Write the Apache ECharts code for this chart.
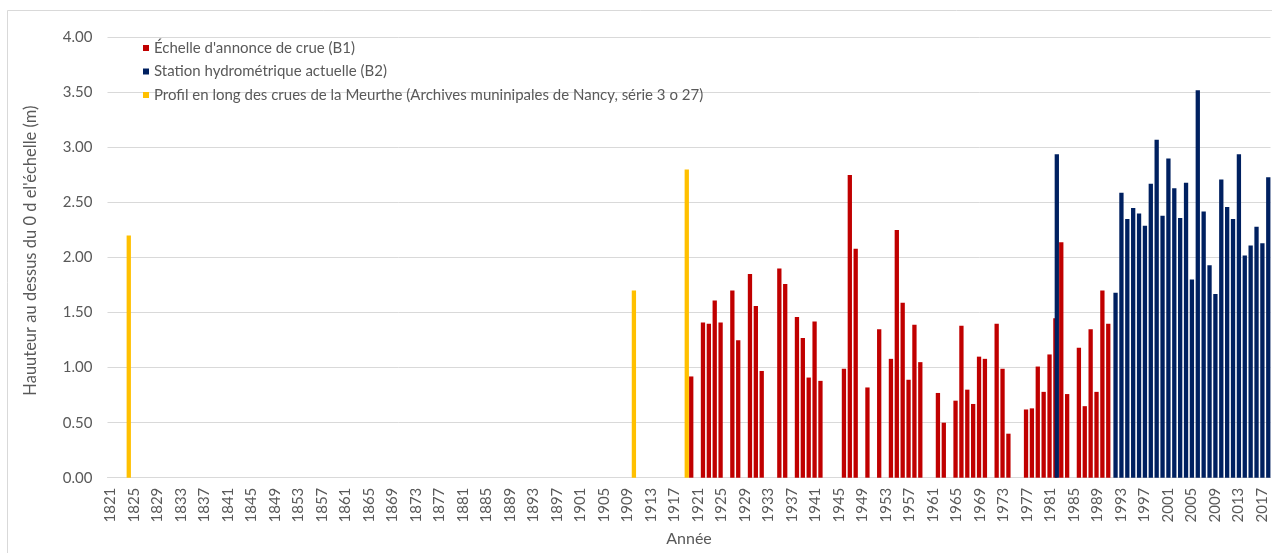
<!DOCTYPE html>
<html>
<head>
<meta charset="utf-8">
<script src="https://cdn.jsdelivr.net/npm/echarts@6/dist/echarts.min.js"></script>
<style>
  html, body { margin: 0; padding: 0; background: #ffffff; }
  #chart { width: 1272px; height: 553px; }
</style>
</head>
<body>
<div id="chart"></div>
<script>
// Years shown on the category axis
const firstYear = 1821;
const lastYear = 2018;

// Series labels
const seriesNames = [
  "Échelle d'annonce de crue (B1)",
  "Station hydrométrique actuelle (B2)",
  "Profil en long des crues de la Meurthe (Archives muninipales de Nancy, série 3 o 27)"
];

// Flood heights (m) — [year, height]
const echelleB1 = [
  [1920, 0.92], [1922, 1.41], [1923, 1.40], [1924, 1.61], [1925, 1.41],
  [1927, 1.70], [1928, 1.25], [1930, 1.85], [1931, 1.56], [1932, 0.97],
  [1935, 1.90], [1936, 1.76], [1938, 1.46], [1939, 1.27], [1940, 0.91],
  [1941, 1.42], [1942, 0.88], [1946, 0.99], [1947, 2.75], [1948, 2.08],
  [1950, 0.82], [1952, 1.35], [1954, 1.08], [1955, 2.25], [1956, 1.59],
  [1957, 0.89], [1958, 1.39], [1959, 1.05], [1962, 0.77], [1963, 0.50],
  [1965, 0.70], [1966, 1.38], [1967, 0.80], [1968, 0.67], [1969, 1.10],
  [1970, 1.08], [1972, 1.40], [1973, 0.99], [1974, 0.40], [1977, 0.62],
  [1978, 0.63], [1979, 1.01], [1980, 0.78], [1981, 1.12], [1982, 1.45],
  [1983, 2.14], [1984, 0.76], [1986, 1.18], [1987, 0.65], [1988, 1.35],
  [1989, 0.78], [1990, 1.70], [1991, 1.40]
];

const stationB2 = [
  [1982, 2.94], [1992, 1.68], [1993, 2.59], [1994, 2.35], [1995, 2.45],
  [1996, 2.40], [1997, 2.29], [1998, 2.67], [1999, 3.07], [2000, 2.38],
  [2001, 2.90], [2002, 2.63], [2003, 2.36], [2004, 2.68], [2005, 1.80],
  [2006, 3.52], [2007, 2.42], [2008, 1.93], [2009, 1.67], [2010, 2.71],
  [2011, 2.46], [2012, 2.35], [2013, 2.94], [2014, 2.02], [2015, 2.11],
  [2016, 2.28], [2017, 2.13], [2018, 2.73]
];

const profilMeurthe = [
  [1824, 2.20], [1910, 1.70], [1919, 2.80]
];

// Category labels
const years = [];
for (let y = firstYear; y <= lastYear; y++) years.push(String(y));

// Spread [year, value] pairs onto the category axis
function toSeries(pairs) {
  const out = years.map(() => null);
  pairs.forEach(([y, v]) => { out[y - firstYear] = v; });
  return out;
}

const FONT = 'Lato, "Open Sans", sans-serif';
const TXT = '#595959';
const GRID = '#d9d9d9';
const BAR_W = 4.3;

const chart = echarts.init(document.getElementById('chart'), null, { renderer: 'canvas' });

chart.setOption({
  animation: false,
  backgroundColor: '#ffffff',
  textStyle: { fontFamily: FONT },
  graphic: [{
    type: 'rect',
    silent: true,
    z: -10,
    shape: { x: 7.5, y: 10.5, width: 1300, height: 600 },
    style: { fill: 'none', stroke: GRID, lineWidth: 1 }
  }],
  legend: {
    orient: 'vertical',
    left: 143,
    top: 40,
    padding: 0,
    itemWidth: 6,
    itemHeight: 6,
    itemGap: 7.5,
    icon: 'rect',
    textStyle: { color: TXT, fontSize: 15, fontFamily: FONT, lineHeight: 16 },
    data: seriesNames
  },
  grid: { left: 107.5, right: 1.5, top: 37.5, bottom: 75.3, containLabel: false },
  xAxis: {
    type: 'category',
    data: years,
    name: 'Année',
    nameLocation: 'middle',
    nameGap: 51,
    nameTextStyle: { color: TXT, fontSize: 16, fontFamily: FONT },
    axisLine: { lineStyle: { color: GRID } },
    axisTick: { show: false },
    axisLabel: { interval: 3, rotate: 90, margin: 10, color: TXT, fontSize: 15, fontFamily: FONT }
  },
  yAxis: {
    type: 'value',
    min: 0,
    max: 4,
    interval: 0.5,
    name: "Hauuteur au dessus du 0 d el'échelle (m)",
    nameLocation: 'middle',
    nameGap: 68,
    nameTextStyle: { color: TXT, fontSize: 16.5, fontFamily: FONT, padding: [0, 0, 0, 14] },
    axisLine: { show: false },
    axisTick: { show: false },
    axisLabel: { margin: 15, color: TXT, fontSize: 15, fontFamily: FONT, formatter: v => v.toFixed(2) },
    splitLine: { lineStyle: { color: GRID, width: 1 } }
  },
  series: [
    {
      name: seriesNames[0], type: 'bar', data: toSeries(echelleB1),
      barWidth: BAR_W, barGap: '-67%',
      itemStyle: { color: '#C00000' }
    },
    {
      name: seriesNames[1], type: 'bar', stack: 'tail', data: toSeries(stationB2),
      barWidth: BAR_W, barGap: '-67%',
      itemStyle: { color: '#002060' }
    },
    {
      name: seriesNames[2], type: 'bar', stack: 'tail', data: toSeries(profilMeurthe),
      barWidth: BAR_W, barGap: '-67%',
      itemStyle: { color: '#FFC000' }
    }
  ]
});
</script>
</body>
</html>
